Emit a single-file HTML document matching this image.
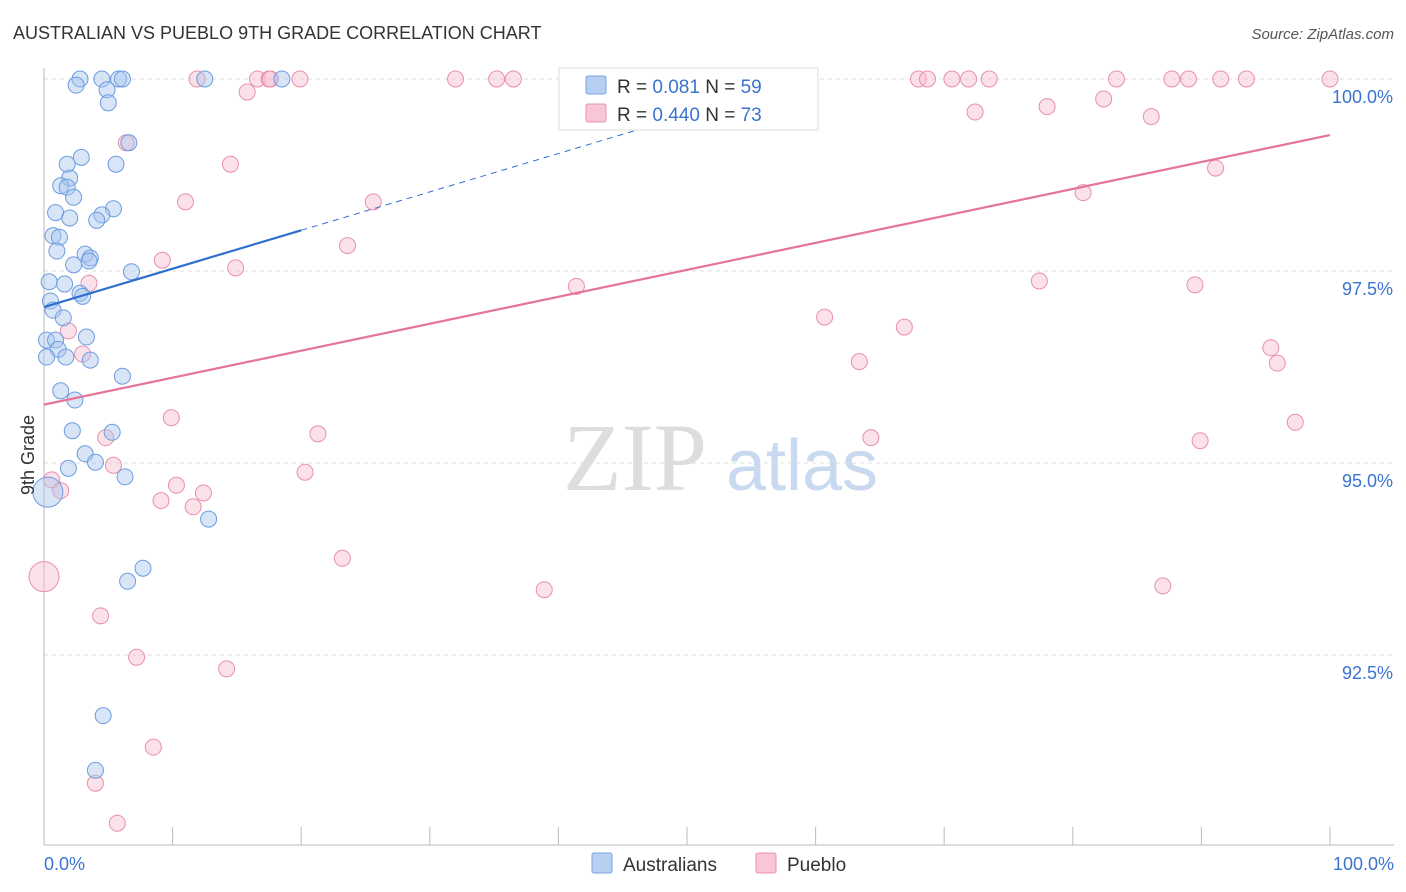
<!DOCTYPE html>
<html><head><meta charset="utf-8"><style>
body{margin:0;background:#fff;font-family:"Liberation Sans",sans-serif;}
svg{display:block}
</style></head><body>
<svg id="chart" width="1406" height="892" viewBox="0 0 1406 892">
<text x="13" y="39" font-size="18" fill="#333">AUSTRALIAN VS PUEBLO 9TH GRADE CORRELATION CHART</text>
<text x="1394" y="39" font-size="15" fill="#555" font-style="italic" text-anchor="end">Source: ZipAtlas.com</text>
<g>
<text x="635" y="490" font-size="96" font-family="Liberation Serif,serif" fill="#ddd" text-anchor="middle">ZIP</text>
<text x="802" y="490" font-size="72" fill="#c9d9f0" text-anchor="middle">atlas</text>
</g>
<g id="grid"></g>
<g id="axes"></g>
<g id="marks"></g>
<text transform="translate(34,455) rotate(-90)" font-size="18" fill="#333" text-anchor="middle">9th Grade</text>
<g>
<rect x="559" y="68" width="259" height="62" fill="#fff" stroke="#ddd"/>
<rect x="586" y="76" width="20" height="18" fill="#b7d0f2" stroke="#7aa6e0" rx="2"/>
<rect x="586" y="104" width="20" height="18" fill="#f8c6d6" stroke="#ea90ad" rx="2"/>
<text x="617" y="93" font-size="19" fill="#333">R = <tspan fill="#3a74d0">0.081</tspan>   N = <tspan fill="#3a74d0">59</tspan></text>
<text x="617" y="121" font-size="19" fill="#333">R = <tspan fill="#3a74d0">0.440</tspan>   N = <tspan fill="#3a74d0">73</tspan></text>
</g>
<g>
<rect x="592" y="853" width="20" height="20" fill="#b7d0f2" stroke="#7aa6e0" rx="2"/>
<text x="623" y="871" font-size="19" fill="#333">Australians</text>
<rect x="756" y="853" width="20" height="20" fill="#f8c6d6" stroke="#ea90ad" rx="2"/>
<text x="787" y="871" font-size="19" fill="#333">Pueblo</text>
</g>
</svg>
<script>
const blueX=[2.8,2.5,4.5,5.8,6.1,12.5,18.5,4.9,5.0,6.6,5.6,2.9,1.8,2.0,1.3,1.8,2.3,0.9,2.0,5.4,4.5,4.1,0.7,1.2,1.0,3.2,3.6,3.5,2.3,6.8,0.4,1.6,2.8,3.0,0.5,0.7,1.5,3.3,0.2,0.9,1.1,0.2,1.7,3.6,6.1,1.3,2.4,2.2,5.3,3.2,1.9,4.0,6.3,0.3,12.8,7.7,6.5,4.6,4.0];
const blueY=[100,99.92,100,100,100,100,100,99.86,99.69,99.17,98.89,98.98,98.89,98.71,98.61,98.59,98.46,98.26,98.19,98.31,98.23,98.16,97.96,97.94,97.76,97.72,97.67,97.63,97.58,97.49,97.36,97.33,97.21,97.17,97.11,96.99,96.89,96.64,96.60,96.60,96.48,96.38,96.38,96.34,96.13,95.94,95.82,95.42,95.40,95.12,94.93,95.01,94.82,94.62,94.27,93.63,93.46,91.71,91.00];
const blueBig=[53];
const pinkX=[11.9,16.6,17.5,17.6,19.9,32.0,35.2,36.5,42.3,47.0,68.0,68.7,70.6,71.9,73.5,83.4,87.7,89.0,91.5,93.5,100,15.8,78.0,82.4,72.4,86.1,6.4,14.5,91.1,11.0,25.6,80.8,23.6,9.2,14.9,77.4,89.5,41.4,3.5,60.7,66.9,1.9,3.0,63.4,95.4,95.9,9.9,97.3,21.3,4.8,64.3,89.9,20.3,5.4,0.6,10.3,1.3,12.4,9.1,11.6,23.2,0.0,87.0,38.9,4.4,7.2,14.2,8.5,4.0,5.7];
const pinkY=[100,100,100,100,100,100,100,100,100,100,100,100,100,100,100,100,100,100,100,100,100,99.83,99.64,99.74,99.57,99.51,99.17,98.89,98.84,98.40,98.40,98.52,97.83,97.64,97.54,97.37,97.32,97.30,97.34,96.90,96.77,96.72,96.42,96.32,96.50,96.30,95.59,95.53,95.38,95.33,95.33,95.29,94.88,94.97,94.78,94.71,94.64,94.61,94.51,94.43,93.76,93.52,93.40,93.35,93.01,92.47,92.32,91.30,90.83,90.31];
const pinkBig=[61];
const yTicks=[100,97.5,95,92.5];
const yTickLabels=["100.0%","97.5%","95.0%","92.5%"];
const blueTrend=[97.03,0.05];
const pinkTrend=[95.76,0.0351];

const NS="http://www.w3.org/2000/svg";
const sx=v=>44+v*12.86;
const sy=v=>79+(100-v)*76.8;
function mk(tag,attrs,parent){const e=document.createElementNS(NS,tag);for(const k in attrs)e.setAttribute(k,attrs[k]);parent.appendChild(e);return e;}
const grid=document.getElementById('grid'),axes=document.getElementById('axes'),marks=document.getElementById('marks');
yTicks.forEach((t,i)=>{
 const l=mk('line',{x1:44,x2:1394,y1:sy(t),y2:sy(t),stroke:'#ddd','stroke-dasharray':'4,4'},grid);
 
 
 const tx=mk('text',{x:1393,y:sy(t)+24,'font-size':18,fill:'#3a74d0','text-anchor':'end'},grid);
 tx.textContent=yTickLabels[i];
 
 
});
mk('line',{x1:44,x2:44,y1:68,y2:845,stroke:'#bbb'},axes);
mk('line',{x1:44,x2:1394,y1:845,y2:845,stroke:'#bbb'},axes);
for(let i=0;i<=10;i++){const t=mk('line',{x1:sx(i*10),x2:sx(i*10),y1:827,y2:845,stroke:'#bbb'},axes);
 
 }
const xl0=mk('text',{x:44,y:870,'font-size':18,fill:'#3a74d0'},axes);xl0.textContent='0.0%';


const xl1=mk('text',{x:1394,y:870,'font-size':18,fill:'#3a74d0','text-anchor':'end'},axes);xl1.textContent='100.0%';


function pts(X,Y,big,fill,stroke,name){X.forEach((x,i)=>{
 const c=mk('circle',{cx:sx(x),cy:sy(Y[i]),r:big.includes(i)?15:8,fill:fill,'fill-opacity':0.45,stroke:stroke,'stroke-width':1},marks);
 
 
});}
pts(pinkX,pinkY,pinkBig,'#f7bccf','#e890ac','pueblo-point');
pts(blueX,blueY,blueBig,'#a9c6ee','#6d9ce0','australians-point');
const pl=mk('line',{x1:sx(0),y1:sy(pinkTrend[0]),x2:sx(100),y2:sy(pinkTrend[0]+pinkTrend[1]*100),stroke:'#e5739a','stroke-width':2.2},marks);


const bl=mk('line',{x1:sx(0),y1:sy(blueTrend[0]),x2:sx(20),y2:sy(blueTrend[0]+blueTrend[1]*20),stroke:'#2f6fd0','stroke-width':2.2},marks);


const bd=mk('line',{x1:sx(20),y1:sy(blueTrend[0]+blueTrend[1]*20),x2:sx(48),y2:sy(blueTrend[0]+blueTrend[1]*48),stroke:'#2f6fd0','stroke-width':1,'stroke-dasharray':'6,5'},marks);


</script>
</body></html>
